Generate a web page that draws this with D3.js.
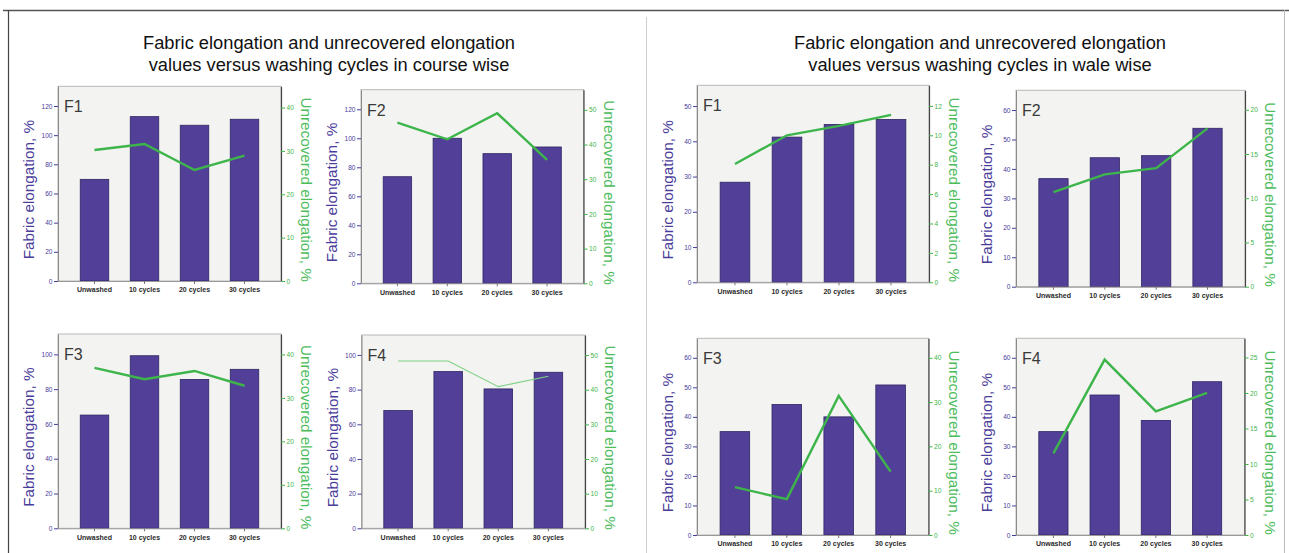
<!DOCTYPE html>
<html><head><meta charset="utf-8">
<script src="https://cdn.jsdelivr.net/npm/d3@7"></script>
<style>body{margin:0;background:#fff}svg{display:block}</style>
</head><body>
<svg id="c" width="1289" height="553"></svg>
<script>
// ---------- DATA ----------
const categories = ["Unwashed", "10 cycles", "20 cycles", "30 cycles"];
const panelNames = ["F1", "F2", "F3", "F4"];
const groupTitles = [
  ["Fabric elongation and unrecovered elongation", "values versus washing cycles in course wise"],
  ["Fabric elongation and unrecovered elongation", "values versus washing cycles in wale wise"]
];
const leftAxisTitle = "Fabric elongation, %";
const rightAxisTitle = "Unrecovered elongation, %";

// course wise
const courseFabric = [
  [69.7, 112.7, 106.8, 110.9],
  [73.5, 100.0, 89.4, 94.0],
  [65.1, 99.2, 85.6, 91.4],
  [67.9, 90.4, 80.4, 90.0]
];
const courseUnrecovered = [
  [30.2, 31.6, 25.6, 28.9],
  [46.3, 41.5, 49.0, 35.6],
  [36.9, 34.3, 36.2, 32.8],
  [48.3, 48.3, 40.9, 43.9]
];
// wale wise
const waleFabric = [
  [28.4, 41.2, 44.8, 46.2],
  [36.7, 43.8, 44.5, 53.8],
  [35.0, 44.2, 40.0, 50.8],
  [35.0, 47.4, 38.8, 51.9]
];
const waleUnrecovered = [
  [8.05, 10.0, 10.64, 11.39],
  [10.7, 12.7, 13.4, 17.9],
  [10.8, 8.1, 31.4, 14.3],
  [11.5, 24.7, 17.4, 20.0]
];

// tick labels
const courseLeftTicks = [
  [0, 20, 40, 60, 80, 100, 120],
  [0, 20, 40, 60, 80, 100, 120],
  [0, 20, 40, 60, 80, 100],
  [0, 20, 40, 60, 80, 100]
];
const courseRightTicks = [
  [0, 10, 20, 30, 40],
  [0, 10, 20, 30, 40, 50],
  [0, 10, 20, 30, 40],
  [0, 10, 20, 30, 40, 50]
];
const waleLeftTicks = [
  [0, 10, 20, 30, 40, 50],
  [0, 10, 20, 30, 40, 50, 60],
  [0, 10, 20, 30, 40, 50, 60],
  [0, 10, 20, 30, 40, 50, 60]
];
const waleRightTicks = [
  [0, 2, 4, 6, 8, 10, 12],
  [0, 5, 10, 15, 20],
  [0, 10, 20, 30, 40],
  [0, 5, 10, 15, 20, 25]
];
// axis domain maxima
const courseLeftMax = [133.5, 133.5, 111.7, 111.5];
const courseRightMax = [44.9, 55.8, 44.7, 55.8];
const waleLeftMax = [55.9, 66.7, 66.6, 66.6];
const waleRightMax = [13.4, 22.2, 44.4, 27.7];

// ---------- LAYOUT ----------
// [x0, x1, top, bottom] of each plot box
const courseBoxes = [[58, 281, 86.3, 281], [361, 583.5, 89.7, 283.3], [58, 281, 334, 528.3], [361.5, 585, 335, 528.3]];
const waleBoxes = [[697, 929, 85.3, 282.3], [1016, 1245, 90.3, 286.7], [697, 928.5, 338.3, 535], [1016, 1244.5, 338.3, 535]];
const titleCenters = [329, 980];

const PURPLE = "#523f98";
const PURPLE_TXT = "#4a3c9a";
const GREEN = "#3db54b";
const GREEN_TXT = "#4cbc5c";
const FONT = "Liberation Sans, Arial, sans-serif";

const svg = d3.select("#c");

// frame lines
svg.append("line").attr("x1", 3).attr("x2", 1289).attr("y1", 10.5).attr("y2", 10.5).attr("stroke", "#555").attr("stroke-width", 1.5);
svg.append("line").attr("x1", 8.5).attr("x2", 8.5).attr("y1", 10).attr("y2", 553).attr("stroke", "#444").attr("stroke-width", 1.2);
svg.append("line").attr("x1", 646.5).attr("x2", 646.5).attr("y1", 17).attr("y2", 553).attr("stroke", "#cfcfcf").attr("stroke-width", 1);
svg.append("line").attr("x1", 1284.5).attr("x2", 1284.5).attr("y1", 10).attr("y2", 553).attr("stroke", "#bbb").attr("stroke-width", 1);

// group titles
groupTitles.forEach((lines, gi) => {
  lines.forEach((t, li) => {
    svg.append("text").attr("x", titleCenters[gi]).attr("y", 48.5 + li * 22.5)
      .attr("text-anchor", "middle").attr("font-family", FONT)
      .attr("font-size", 18.3).attr("fill", "#111").text(t);
  });
});

function drawPanel(box, name, fabric, unrec, lTicks, rTicks, lMax, rMax, thinLine) {
  const [x0, x1, top, bottom] = box;
  const w = x1 - x0, h = bottom - top;
  const g = svg.append("g").attr("transform", `translate(${x0},${top})`);
  const x = d3.scaleBand().domain(categories).range([0, w]).paddingInner(0.43).paddingOuter(0.445);
  const yL = d3.scaleLinear().domain([0, lMax]).range([h, 0]);
  const yR = d3.scaleLinear().domain([0, rMax]).range([h, 0]);

  g.append("rect").attr("width", w).attr("height", h).attr("fill", "#f3f3f1").attr("stroke", "#b8b8b8").attr("stroke-width", 1);

  // bars
  g.selectAll("rect.bar").data(fabric).join("rect").attr("class", "bar")
    .attr("x", (d, i) => x(categories[i]))
    .attr("width", x.bandwidth())
    .attr("y", d => yL(d))
    .attr("height", d => h - yL(d))
    .attr("fill", PURPLE).attr("stroke", "#2f2563").attr("stroke-width", 0.8);

  // line
  const line = d3.line().x((d, i) => x(categories[i]) + x.bandwidth() / 2).y(d => yR(d));
  g.append("path").datum(unrec).attr("d", line).attr("fill", "none")
    .attr("stroke", thinLine ? "#7fd284" : GREEN).attr("stroke-width", thinLine ? 1.1 : 2.4)
    .attr("stroke-linejoin", "miter");

  // left axis
  const la = g.append("g").call(d3.axisLeft(yL).tickValues(lTicks).tickSize(4).tickPadding(1.5).tickSizeOuter(0));
  la.select(".domain").attr("stroke", "#8a8a8a");
  la.selectAll(".tick line").attr("stroke", PURPLE_TXT);
  la.selectAll("text").attr("fill", PURPLE_TXT).attr("font-size", 6.6).attr("font-family", FONT);

  // right axis
  const ra = g.append("g").attr("transform", `translate(${w},0)`)
    .call(d3.axisRight(yR).tickValues(rTicks).tickSize(4).tickPadding(1.5).tickSizeOuter(0));
  ra.select(".domain").attr("stroke", "#444").attr("stroke-width", 1.2);
  ra.selectAll(".tick line").attr("stroke", GREEN);
  ra.selectAll("text").attr("fill", GREEN).attr("font-size", 6.6).attr("font-family", FONT);

  // bottom axis
  const ba = g.append("g").attr("transform", `translate(0,${h})`)
    .call(d3.axisBottom(x).tickSize(3).tickPadding(3.5).tickSizeOuter(0));
  ba.select(".domain").attr("stroke", "#999");
  ba.selectAll(".tick line").attr("stroke", "#777");
  ba.selectAll("text").attr("fill", "#2a2a2a").attr("font-size", 7).attr("font-weight", "bold")
    .attr("font-family", FONT);

  // panel name
  g.append("text").attr("x", 6).attr("y", 26).attr("font-size", 16)
    .attr("font-family", FONT).attr("fill", "#3a3a3a").text(name);

  // axis titles
  g.append("text").attr("transform", `translate(${-24},${h / 2 + 6}) rotate(-90)`)
    .attr("text-anchor", "middle").attr("font-size", 15.3).attr("fill", PURPLE_TXT)
    .attr("font-family", FONT).text(leftAxisTitle);
  g.append("text").attr("transform", `translate(${w + 20},${h / 2 + 6}) rotate(90)`)
    .attr("text-anchor", "middle").attr("font-size", 15.3).attr("fill", GREEN_TXT)
    .attr("font-family", FONT).text(rightAxisTitle);
}

for (let i = 0; i < 4; i++) {
  drawPanel(courseBoxes[i], panelNames[i], courseFabric[i], courseUnrecovered[i],
    courseLeftTicks[i], courseRightTicks[i], courseLeftMax[i], courseRightMax[i], i === 3);
  drawPanel(waleBoxes[i], panelNames[i], waleFabric[i], waleUnrecovered[i],
    waleLeftTicks[i], waleRightTicks[i], waleLeftMax[i], waleRightMax[i], false);
}
</script>
</body></html>
